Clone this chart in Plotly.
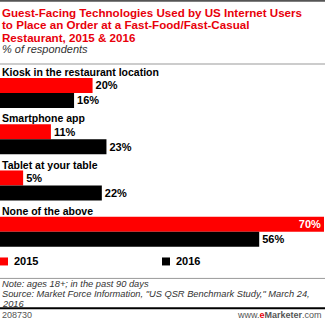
import plotly.graph_objects as go

categories = ["Kiosk in the restaurant location", "Smartphone app", "Tablet at your table", "None of the above"]
values_2015 = [20, 11, 5, 70]
values_2016 = [16, 23, 22, 56]
series_names = ["2015", "2016"]
colors = ["#ff0000", "#000000"]

W, H = 325, 321
top, bottom = 64, 249.5
fig = go.Figure()

pos_2015 = ["outside", "outside", "outside", "inside"]
fig.add_trace(go.Bar(
    y=categories, x=values_2015, orientation="h", name=series_names[0],
    marker=dict(color=colors[0], line=dict(width=0)),
    width=0.324, offset=-0.198,
    text=[f"<b>{v}%</b>" for v in values_2015], textposition=pos_2015,
    insidetextanchor="end",
    textfont=dict(family="Liberation Sans", size=11, color=["#000", "#000", "#000", "#fff"]),
    cliponaxis=False, showlegend=False,
))
fig.add_trace(go.Bar(
    y=categories, x=values_2016, orientation="h", name=series_names[1],
    marker=dict(color=colors[1], line=dict(width=0)),
    width=0.324, offset=0.126,
    text=[f"<b>{v}%</b>" for v in values_2016], textposition="outside",
    textfont=dict(family="Liberation Sans", size=11, color="#000"),
    cliponaxis=False, showlegend=False,
))

ann = []
for c in categories:
    ann.append(dict(x=0, xref="paper", y=c, yref="y", yshift=15, text=f"<b>{c}</b>",
                    showarrow=False, xanchor="left", yanchor="middle",
                    font=dict(family="Liberation Sans", size=10.5, color="#000")))

def py(p):
    return 1 - (p - top) / (bottom - top)

title_lines = ["Guest-Facing Technologies Used by US Internet Users",
               "to Place an Order at a Fast-Food/Fast-Casual",
               "Restaurant, 2015 & 2016"]
for i, t in enumerate(title_lines):
    ann.append(dict(x=0, xref="paper", y=py(12 + 12.5 * i), yref="paper", text=f"<b>{t}</b>",
                    showarrow=False, xanchor="left", yanchor="middle",
                    font=dict(family="Liberation Sans", size=11.6, color="#e8000b")))
ann.append(dict(x=0, xref="paper", y=py(49), yref="paper", text="<i>% of respondents</i>",
                showarrow=False, xanchor="left", yanchor="middle",
                font=dict(family="Liberation Sans", size=11, color="#333")))

# legend
ann.append(dict(x=12 / 324, xref="paper", y=py(262), yref="paper", text="<b>2015</b>",
                showarrow=False, xanchor="left", yanchor="middle",
                font=dict(family="Liberation Sans", size=11, color="#000")))
ann.append(dict(x=174 / 324, xref="paper", y=py(262), yref="paper", text="<b>2016</b>",
                showarrow=False, xanchor="left", yanchor="middle",
                font=dict(family="Liberation Sans", size=11, color="#000")))

foot = ["Note: ages 18+; in the past 90 days",
        "Source: Market Force Information, \"US QSR Benchmark Study,\" March 24,",
        "2016"]
for i, t in enumerate(foot):
    ann.append(dict(x=0, xref="paper", y=py(285 + 10 * i), yref="paper", text=f"<i>{t}</i>",
                    showarrow=False, xanchor="left", yanchor="middle",
                    font=dict(family="Liberation Sans", size=9.3, color="#333")))
ann.append(dict(x=0, xref="paper", y=py(316), yref="paper", text="208730",
                showarrow=False, xanchor="left", yanchor="middle",
                font=dict(family="Liberation Sans", size=9, color="#555")))
ann.append(dict(x=1, xref="paper", y=py(316), yref="paper",
                text="www.<span style='color:#e8000b'><b>e</b></span><b>Marketer</b>.com",
                showarrow=False, xanchor="right", yanchor="middle",
                font=dict(family="Liberation Sans", size=9, color="#555")))

shapes = [
    dict(type="rect", xref="paper", yref="paper", x0=0, x1=8 / 324, y0=py(258), y1=py(266),
         fillcolor=colors[0], line=dict(width=0)),
    dict(type="rect", xref="paper", yref="paper", x0=162 / 324, x1=170 / 324, y0=py(258), y1=py(266),
         fillcolor=colors[1], line=dict(width=0)),
    dict(type="line", xref="paper", yref="paper", x0=0, x1=1.01, y0=py(64), y1=py(64),
         line=dict(color="#999", width=1)),
    dict(type="line", xref="paper", yref="paper", x0=0, x1=1.01, y0=py(279), y1=py(279),
         line=dict(color="#999", width=1)),
    dict(type="line", xref="paper", yref="paper", x0=0, x1=1.01, y0=py(309), y1=py(309),
         line=dict(color="#000", width=2)),
    dict(type="line", xref="paper", yref="paper", x0=0, x1=1.01, y0=py(0.5), y1=py(0.5),
         line=dict(color="#555", width=2)),
]

fig.update_layout(
    width=W, height=H,
    margin=dict(l=0, r=1, t=top, b=H - bottom, pad=0),
    paper_bgcolor="white", plot_bgcolor="white",
    barmode="overlay",
    xaxis=dict(range=[0, 70], visible=False, fixedrange=True),
    yaxis=dict(autorange="reversed", visible=False, categoryorder="array", categoryarray=categories),
    annotations=ann, shapes=shapes,
    uniformtext=dict(mode="show", minsize=11),
)

fig.write_html("out.html", config={"displayModeBar": False})
